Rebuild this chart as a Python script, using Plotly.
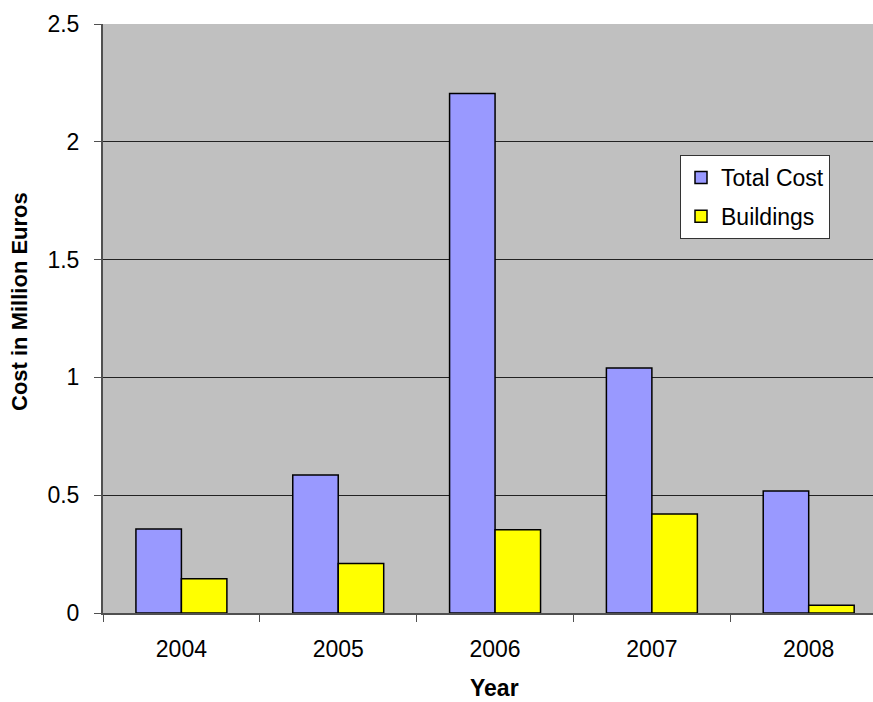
import plotly.graph_objects as go

years = ["2004", "2005", "2006", "2007", "2008"]
total_cost = [0.357, 0.586, 2.205, 1.04, 0.518]
buildings = [0.145, 0.21, 0.353, 0.42, 0.033]
y_ticks = [0, 0.5, 1, 1.5, 2, 2.5]
y_tick_labels = ["0", "0.5", "1", "1.5", "2", "2.5"]

fig = go.Figure()
fig.add_trace(go.Bar(x=years, y=total_cost, name="Total Cost", legendgroup="a",
                     marker=dict(color="#9999FF", line=dict(color="black", width=1.5))))
fig.add_trace(go.Bar(x=years, y=buildings, name="Buildings", legendgroup="b",
                     marker=dict(color="#FFFF00", line=dict(color="black", width=1.5))))

font = "Liberation Sans, Arial, sans-serif"
fig.update_layout(
    width=873, height=702,
    margin=dict(l=103, r=0, t=24, b=89),
    plot_bgcolor="#C0C0C0", paper_bgcolor="white",
    barmode="group", bargap=0.42, bargroupgap=0,
    font=dict(family=font, size=23, color="black"),
    legend=dict(x=(680-103)/770, y=(613-155)/589, xanchor="left", yanchor="top",
                bgcolor="white", bordercolor="#333333", borderwidth=1,
                font=dict(size=23), itemwidth=30, tracegroupgap=6),
    showlegend=True,
)
fig.update_xaxes(range=[-0.5, 4.41], showline=True, linecolor="#505050", linewidth=2,
                 ticks="outside", tickson="boundaries", ticklen=7, tickcolor="#505050",
                 tickfont=dict(size=23), ticklabelstandoff=14, showgrid=False)
fig.update_yaxes(range=[0, 2.5], tickvals=y_ticks, ticktext=y_tick_labels,
                 showline=True, linecolor="#505050", linewidth=2,
                 ticks="outside", ticklen=7, tickcolor="#505050", tickfont=dict(size=23),
                 ticklabelstandoff=10,
                 showgrid=True, gridcolor="#222222", gridwidth=1, zeroline=False)

fig.add_annotation(text="<b>Year</b>", xref="paper", yref="paper", x=(495-103)/770, y=-75/589,
                   xanchor="center", yanchor="middle", showarrow=False, font=dict(size=23))
fig.add_annotation(text="<b>Cost in Million Euros</b>", xref="paper", yref="paper",
                   x=-84/770, y=(613-302)/589, xanchor="center", yanchor="middle",
                   textangle=-90, showarrow=False, font=dict(size=22))

fig.write_html("out.html")
